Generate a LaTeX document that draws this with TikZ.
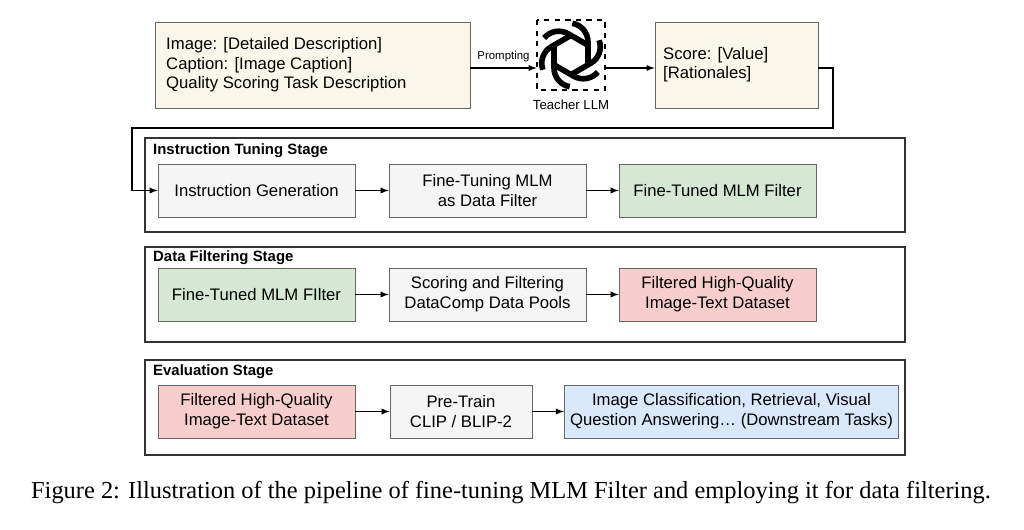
\documentclass[tikz,border=0pt]{standalone}
\usepackage{fontspec}
\setmainfont{Liberation Serif}
\setsansfont{Liberation Sans}
\usetikzlibrary{positioning}
\definecolor{beige}{HTML}{FAF6EA}
\definecolor{grayfill}{HTML}{F5F5F5}
\definecolor{greenfill}{HTML}{D5E8D4}
\definecolor{redfill}{HTML}{F8CECC}
\definecolor{bluefill}{HTML}{DAE8FC}
\definecolor{edge}{HTML}{666666}
\tikzset{
  box/.style={draw=edge, minimum width=3.94cm, minimum height=1.06cm, align=center, font=\sffamily\fontsize{9.5}{11.5}\selectfont},
  frame/.style={draw=black!80, line width=0.6pt},
  stage/.style={anchor=west, font=\sffamily\bfseries\fontsize{8.5}{10}\selectfont},
  flow/.style={-latex, line width=0.6pt}
}
\begin{document}
\begin{tikzpicture}[x=0.02cm,y=-0.02cm]
	\useasboundingbox (0,0) rectangle (1024,530);
	% top row
	\node [draw=edge, fill=beige, minimum width=6.3cm, minimum height=1.72cm] (desc) at (312.5,65) {};
	\node [anchor=west, align=left, font=\sffamily\fontsize{9.5}{11}\selectfont] at (160,65) {Image: [Detailed Description]\\Caption: [Image Caption]\\Quality Scoring Task Description};
	\draw [dashed, line width=0.8pt] (537,20) rectangle (605,90);
	\coordinate (logo) at (571,55);
	\node [minimum size=1.36cm] (llm) at (571,55) {};
	\foreach \a in {0,60,...,300}
		\draw [line width=3.2pt, rotate around={\a:(logo)}] (554,44) -- (554,68) arc (180:100:19) ;
	\node [font=\sffamily\fontsize{7.5}{9}\selectfont] at (571,105) {Teacher LLM};
	\node [draw=edge, fill=beige, minimum width=3.26cm, minimum height=1.72cm] (score) at (736.5,65) {};
	\node [anchor=west, align=left, font=\sffamily\fontsize{9.5}{11}\selectfont] at (657,65) {Score: [Value]\\{[Rationales]}};
	\draw [flow] (desc.east |- 0,68) -- node [above, font=\sffamily\fontsize{6.5}{8}\selectfont] {Prompting} (llm.west |- 0,68);
	\draw [flow] (llm.east |- 0,68) -- (score.west |- 0,68);
	% instruction tuning stage
	\draw [frame] (145,138) rectangle (905,232);
	\node [stage] at (147,151) {Instruction Tuning Stage};
	\node [box, fill=grayfill] (gen) at (256.5,190.5) {Instruction Generation};
	\node [box, fill=grayfill] (tune) at (487.5,190.5) {Fine-Tuning MLM\\as Data Filter};
	\node [box, fill=greenfill] (tuned) at (717.5,190.5) {Fine-Tuned MLM Filter};
	\draw [flow] (score.east |- 0,68) -- (833,68) -- (833,128) -- (132,128) -- (132,190.5) -- (gen.west);
	\draw [flow] (gen) -- (tune);
	\draw [flow] (tune) -- (tuned);
	% data filtering stage
	\draw [frame] (145,247) rectangle (905,342);
	\node [stage] at (147,258) {Data Filtering Stage};
	\node [box, fill=greenfill] (filter) at (256.5,294.5) {Fine-Tuned MLM FIlter};
	\node [box, fill=grayfill] (scoring) at (487.5,294.5) {Scoring and Filtering\\DataComp Data Pools};
	\node [box, fill=redfill] (dataset) at (717.5,294.5) {Filtered High-Quality\\Image-Text Dataset};
	\draw [flow] (filter) -- (scoring);
	\draw [flow] (scoring) -- (dataset);
	% evaluation stage
	\draw [frame] (145,360) rectangle (905,455);
	\node [stage] at (147,372) {Evaluation Stage};
	\node [box, fill=redfill] (data) at (256.5,411.5) {Filtered High-Quality\\Image-Text Dataset};
	\node [box, fill=grayfill, minimum width=2.84cm] (pretrain) at (461,411.5) {Pre-Train\\CLIP / BLIP-2};
	\node [box, fill=bluefill, minimum width=6.54cm] (tasks) at (731.5,411.5) {Image Classification, Retrieval, Visual\\Question Answering… (Downstream Tasks)};
	\draw [flow] (data) -- (pretrain);
	\draw [flow] (pretrain) -- (tasks);
	\node [font=\fontsize{13.9}{16}\selectfont] (caption) at (511,493) {Figure 2: Illustration of the pipeline of fine-tuning MLM Filter and employing it for data filtering.};
\end{tikzpicture}
\end{document}
